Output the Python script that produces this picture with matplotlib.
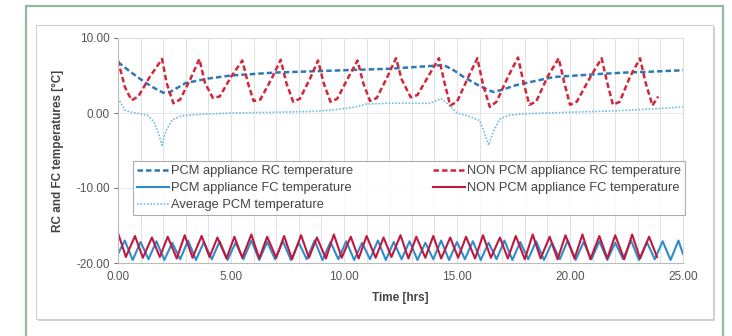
import numpy as np
import matplotlib
matplotlib.use("Agg")
import matplotlib.pyplot as plt
from matplotlib.patches import Rectangle

plt.rcParams["font.family"] = ["Liberation Sans", "DejaVu Sans"]

# PCM appliance RC temperature (blue dashed)
pcm_rc_t = [0.0, 0.5, 1.0, 1.5, 2.0, 2.3, 3.0, 4.0, 5.0, 6.0, 7.0, 8.0, 9.0, 10.0, 11.0,
            12.0, 13.0, 14.0, 14.4, 14.8, 15.3, 16.0, 16.6, 17.0, 17.6, 18.5, 19.3, 20.3,
            21.3, 22.5, 23.5, 25.0]
pcm_rc_v = [6.8, 5.6, 4.5, 3.5, 2.7, 2.8, 4.0, 4.6, 5.0, 5.2, 5.4, 5.5, 5.6, 5.7, 5.8,
            5.9, 6.1, 6.3, 6.4, 5.8, 4.8, 3.6, 2.8, 3.1, 3.7, 4.3, 4.8, 5.0,
            5.2, 5.4, 5.5, 5.7]

# NON PCM appliance RC temperature (red dashed)
non_rc_t = [0.00, 0.30, 0.60, 0.90, 1.40, 1.95, 2.15, 2.45, 2.75, 3.20, 3.60, 3.85, 4.20,
            4.50, 5.00, 5.50, 5.75, 6.00, 6.30, 6.80, 7.20, 7.45, 7.75, 8.05, 8.50, 8.85,
            9.10, 9.40, 9.70, 10.20, 10.60, 10.85, 11.15, 11.45, 11.90, 12.30, 12.55,
            12.95, 13.25, 13.75, 14.20, 14.45, 14.70, 15.00, 15.50, 15.90, 16.15, 16.45,
            16.75, 17.25, 17.70, 17.95, 18.20, 18.50, 19.00, 19.50, 19.75, 20.00, 20.30,
            20.90, 21.40, 21.65, 21.90, 22.20, 22.65, 23.10, 23.35, 23.65, 23.90]
non_rc_v = [7.0, 3.5, 1.7, 2.2, 4.8, 7.2, 4.0, 1.3, 1.8, 4.5, 7.2, 4.0, 2.0,
            2.2, 4.8, 7.0, 4.0, 1.6, 1.8, 4.6, 7.1, 4.0, 1.5, 1.9, 4.6, 7.0,
            4.0, 1.5, 1.9, 4.8, 7.0, 4.0, 1.6, 2.0, 4.7, 7.3, 4.5,
            2.1, 2.4, 5.0, 7.3, 4.0, 1.0, 1.5, 4.8, 7.3, 3.8, 0.8,
            1.5, 4.8, 7.4, 4.0, 1.1, 1.5, 4.8, 7.3, 4.0, 1.1, 1.5,
            4.8, 7.3, 4.0, 1.1, 1.5, 4.8, 7.3, 4.0, 1.0, 2.2]

# Average PCM temperature (light blue dotted)
avg_t = [0.0, 0.3, 0.6, 1.0, 1.3, 1.6, 1.8, 1.95, 2.1, 2.4, 2.8, 3.5, 5.0, 7.0, 8.5, 9.5,
         10.5, 11.0, 12.0, 13.0, 13.8, 14.3, 14.6, 15.0, 15.5, 16.0, 16.2, 16.4, 16.6,
         16.9, 17.3, 18.0, 20.0, 22.0, 24.0, 25.0]
avg_v = [2.0, 0.4, 0.1, -0.1, -0.3, -1.2, -2.8, -4.3, -2.5, -0.9, -0.4, -0.2, 0.0, 0.1, 0.2, 0.4,
         0.8, 1.2, 1.3, 1.3, 1.3, 1.9, 1.2, 0.0, -0.4, -1.0, -2.5, -4.3, -2.5,
         -0.8, -0.3, -0.1, 0.1, 0.3, 0.6, 0.8]

# NON PCM appliance FC temperature (red solid)
non_fc_t = [0.00, 0.35, 0.75, 1.10, 1.50, 1.85, 2.20, 2.60, 2.95, 3.30, 3.70, 4.05, 4.40,
            4.80, 5.15, 5.50, 5.90, 6.25, 6.60, 7.00, 7.35, 7.70, 8.10, 8.45, 8.80, 9.20,
            9.55, 9.90, 10.30, 10.65, 11.00, 11.40, 11.75, 12.10, 12.50, 12.85, 13.20,
            13.60, 13.95, 14.30, 14.70, 15.05, 15.40, 15.80, 16.15, 16.50, 16.90, 17.25,
            17.60, 18.00, 18.35, 18.70, 19.10, 19.45, 19.80, 20.20, 20.55, 20.90, 21.30,
            21.65, 22.00, 22.40, 22.75, 23.10, 23.50, 23.85]
non_fc_v = [-16.0, -19.2, -16.4, -19.3, -16.6, -19.2, -16.5, -19.4, -16.3, -19.3, -16.4, -19.2, -16.6,
            -19.4, -16.5, -19.3, -16.2, -19.4, -16.5, -19.3, -16.4, -19.5, -16.3, -19.3, -16.6, -19.4,
            -16.2, -19.3, -16.5, -19.4, -16.4, -19.3, -16.6, -19.2, -16.3, -19.4, -16.5,
            -19.3, -16.4, -19.4, -16.6, -19.3, -16.5, -19.4, -16.3, -19.3, -16.6, -19.4,
            -16.4, -19.5, -16.2, -19.4, -16.5, -19.5, -16.3, -19.4, -16.2, -19.5, -16.4,
            -19.4, -16.3, -19.5, -16.2, -19.4, -16.5, -19.2]

# PCM appliance FC temperature (blue solid)
pcm_fc_t = [0.00, 0.30, 0.65, 1.00, 1.35, 1.70, 2.05, 2.40, 2.75, 3.10, 3.45, 3.80, 4.15,
            4.50, 4.85, 5.20, 5.55, 5.90, 6.25, 6.60, 6.95, 7.30, 7.65, 8.00, 8.35, 8.70,
            9.05, 9.40, 9.75, 10.10, 10.45, 10.80, 11.15, 11.50, 11.85, 12.20, 12.55,
            12.90, 13.25, 13.60, 13.95, 14.30, 14.65, 15.00, 15.35, 15.70, 16.05, 16.40,
            16.75, 17.10, 17.45, 17.80, 18.15, 18.50, 18.85, 19.20, 19.55, 19.90, 20.25,
            20.60, 20.95, 21.30, 21.65, 22.00, 22.35, 22.70, 23.05, 23.40, 23.75, 24.10,
            24.45, 24.80, 25.00]
pcm_fc_v = [-18.8, -17.0, -19.6, -17.2, -19.5, -17.1, -19.6, -17.3, -19.5, -17.0, -19.6, -17.2, -19.5,
            -17.1, -19.6, -17.3, -19.5, -17.0, -19.6, -17.2, -19.5, -17.1, -19.6, -17.3, -19.5, -17.0,
            -19.6, -17.2, -19.5, -17.1, -19.6, -17.3, -19.5, -17.0, -19.6, -17.2, -19.5,
            -17.1, -19.6, -17.3, -19.5, -17.0, -19.6, -17.2, -19.5, -17.1, -19.6, -17.3,
            -19.5, -17.0, -19.6, -17.2, -19.5, -17.1, -19.6, -17.3, -19.5, -17.0, -19.6,
            -17.2, -19.5, -17.1, -19.6, -17.3, -19.5, -17.0, -19.6, -17.2, -19.5, -17.1,
            -19.6, -17.0, -18.8]

x_ticks = [0, 5, 10, 15, 20, 25]
y_ticks = [-20, -10, 0, 10]

fig = plt.figure(figsize=(7.32, 3.36), dpi=100)
W, H = 732.0, 336.0

# outer green frame (open at the bottom) and the inner chart panel with shadow
fig.patches.append(Rectangle((26 / W, -0.05), (723 - 26) / W, 1.05 - 6 / H,
                             transform=fig.transFigure, fill=False,
                             edgecolor="#93b99f", linewidth=1.6, zorder=-3))
fig.patches.append(Rectangle((38 / W, 1 - 321 / H), (715 - 38) / W, (321 - 27) / H,
                             transform=fig.transFigure, facecolor="#d4d4d4",
                             edgecolor="none", zorder=-2))
fig.patches.append(Rectangle((36 / W, 1 - 319 / H), (713 - 36) / W, (319 - 25) / H,
                             transform=fig.transFigure, facecolor="white",
                             edgecolor="#cfcfcf", linewidth=0.8, zorder=-1))

ax = fig.add_axes([118 / W, 1 - 263 / H, (683 - 118) / W, (263 - 38) / H])
ax.patch.set_alpha(0)

blue = "#2f78b8"
red = "#d3263a"
crimson = "#c0173d"
light = "#6fbde3"

l1, = ax.plot(pcm_rc_t, pcm_rc_v, color=blue, lw=1.8, ls=(0, (2.2, 1.2)))
l2, = ax.plot(pcm_fc_t, pcm_fc_v, color="#2f8ccc", lw=1.5)
l3, = ax.plot(avg_t, avg_v, color=light, lw=1.2, ls=(0, (1, 1)))
l4, = ax.plot(non_rc_t, non_rc_v, color=red, lw=1.8, ls=(0, (2.2, 1.2)))
l5, = ax.plot(non_fc_t, non_fc_v, color=crimson, lw=1.5)

ax.set_xlim(0, 25)
ax.set_ylim(-20, 10)
ax.set_xticks(x_ticks)
ax.set_xticklabels(["%.2f" % v for v in x_ticks])
ax.set_yticks(y_ticks)
ax.set_yticklabels(["%.2f" % v for v in y_ticks])
ax.set_xticks(np.arange(0, 26, 1), minor=True)
ax.grid(which="minor", axis="x", color="#e2e2e2", lw=0.7)
ax.grid(which="major", axis="x", color="#e2e2e2", lw=0.7)
ax.grid(which="major", axis="y", color="#e6e6e6", lw=0.7)
ax.set_axisbelow(True)
ax.tick_params(axis="both", which="major", labelsize=8.5, colors="#555555",
               length=3, width=0.6, pad=3)
ax.tick_params(axis="x", which="minor", length=0)
ax.tick_params(axis="x", which="major", length=0, pad=6)
for side in ["top", "right"]:
    ax.spines[side].set_color("#dddddd")
for side in ["left", "bottom"]:
    ax.spines[side].set_color("#bbbbbb")
for s in ax.spines.values():
    s.set_linewidth(0.8)

ax.set_xlabel("Time [hrs]", fontsize=8.5, fontweight="bold", color="#444444", labelpad=6)
ax.set_ylabel("RC and FC temperatures [°C]", fontsize=8.5, fontweight="bold",
              color="#444444", labelpad=9)

leg = ax.legend([l1, l2, l3, l4, l5],
                ["PCM appliance RC temperature", "PCM appliance FC temperature",
                 "Average PCM temperature", "NON PCM appliance RC temperature",
                 "NON PCM appliance FC temperature"],
                ncol=2, mode="expand", loc="lower left",
                bbox_to_anchor=(0.027, 0.213, 0.976, 0.231),
                fontsize=9.3, frameon=True, fancybox=False, handlelength=2.5,
                handletextpad=0.15, labelspacing=0.38, borderpad=0.3,
                borderaxespad=0, columnspacing=2.0)
leg.get_frame().set_edgecolor("#999999")
leg.get_frame().set_linewidth(0.8)
for t in leg.get_texts():
    t.set_color("#444444")

fig.savefig("out.png", dpi=100, facecolor="white")
